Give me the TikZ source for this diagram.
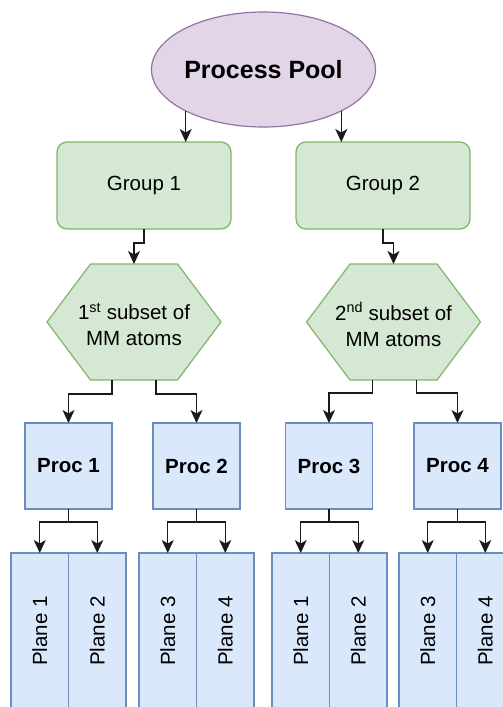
\documentclass[tikz,border=0pt]{standalone}
\usepackage{fontspec}
\setmainfont{Liberation Sans}
\usetikzlibrary{shapes.geometric,arrows.meta,calc}
\definecolor{purfill}{HTML}{E1D5E7}
\definecolor{purline}{HTML}{9673A6}
\definecolor{grfill}{HTML}{D5E8D4}
\definecolor{grline}{HTML}{82B366}
\definecolor{blfill}{HTML}{DAE8FC}
\definecolor{blline}{HTML}{6C8EBF}
\definecolor{arrcol}{HTML}{1A1A1A}
\tikzset{
  base/.style={inner sep=0pt, outer sep=0pt, line width=1.2pt, font=\fontsize{20.5}{26}\selectfont, align=center},
  poolnode/.style={base, ellipse, draw=purline, fill=purfill, minimum width=217pt, minimum height=115pt, font=\fontsize{25}{30}\selectfont\bfseries},
  groupnode/.style={base, rectangle, rounded corners=10pt, draw=grline, fill=grfill, minimum width=174pt, minimum height=87pt},
  hexnode/.style={base, rectangle, minimum width=174pt, minimum height=116pt},
  hexshape/.style={draw=grline, fill=grfill, line width=1.2pt, line join=miter},
  procnode/.style={base, rectangle, draw=blline, fill=blfill, minimum width=87pt, minimum height=86pt, font=\fontsize{20.5}{26}\selectfont\bfseries},
  planenode/.style={base, rectangle, draw=blline, fill=blfill, minimum width=57.5pt, minimum height=156pt, anchor=north},
  arr/.style={draw=arrcol, line width=1.3pt, -{Stealth[length=13pt, width=12pt, inset=3.5pt]}}
}
\begin{document}
\begin{tikzpicture}[x=1pt, y=-1pt]
\useasboundingbox (0,0) rectangle (503,707);
% nodes
\node[poolnode] (pool) at (263.5,69.5) {Process Pool};
\node[groupnode] (g1) at (144,185.5) {Group 1};
\node[groupnode] (g2) at (383,185.5) {Group 2};
% hexagons
\node[hexnode] (h1) at (134,322) {};
\node[hexnode] (h2) at (393.5,322) {};
\foreach \h in {h1,h2}{
  \filldraw[hexshape] ($(\h.north west)+(43.5,0)$) -- ($(\h.north east)+(-43.5,0)$) -- (\h.east) -- ($(\h.south east)+(-43.5,0)$) -- ($(\h.south west)+(43.5,0)$) -- (\h.west) -- cycle;
}
\node[base, yshift=-2.5pt] (t1) at (h1) {1\textsuperscript{st} subset of\\MM atoms};
\node[base, yshift=-2.5pt] (t2) at (h2) {2\textsuperscript{nd} subset of\\MM atoms};
% procs
\node[procnode] (p1) at (68.5,466) {Proc 1};
\node[procnode] (p2) at (196.5,466) {Proc 2};
\node[procnode] (p3) at (329,466) {Proc 3};
\node[procnode] (p4) at (457.5,466) {Proc 4};
% planes
\node[planenode] (a1) at (39.75,553) {\rotatebox{90}{Plane 1}};
\node[planenode] (a2) at (97.25,553) {\rotatebox{90}{Plane 2}};
\node[planenode] (a3) at (167.75,553) {\rotatebox{90}{Plane 3}};
\node[planenode] (a4) at (225.25,553) {\rotatebox{90}{Plane 4}};
\node[planenode] (b1) at (300.75,553) {\rotatebox{90}{Plane 1}};
\node[planenode] (b2) at (358.25,553) {\rotatebox{90}{Plane 2}};
\node[planenode] (b3) at (427.75,553) {\rotatebox{90}{Plane 3}};
\node[planenode] (b4) at (485.25,553) {\rotatebox{90}{Plane 4}};
% connectors
\draw[arr] (pool.208) -- (pool.208 |- g1.north);
\draw[arr] (pool.332) -- (pool.332 |- g2.north);
\draw[arr] (g1.south) -- ++(0,14) -| (h1.north);
\draw[arr] (g2.south) -- ++(0,14) -| (h2.north);
\draw[arr] ($(h1.south)+(-22,0)$) -- ++(0,14) -| (p1.north);
\draw[arr] ($(h1.south)+(22,0)$) -- ++(0,14) -| (p2.north);
\draw[arr] ($(h2.south)+(-21,0)$) -- ++(0,13) -| (p3.north);
\draw[arr] ($(h2.south)+(23,0)$) -- ++(0,13) -| (p4.north);
\draw[arr] (p1.south) -- ++(0,13) -| (a1.north);
\draw[arr] (p1.south) -- ++(0,13) -| (a2.north);
\draw[arr] (p2.south) -- ++(0,13) -| (a3.north);
\draw[arr] (p2.south) -- ++(0,13) -| (a4.north);
\draw[arr] (p3.south) -- ++(0,13) -| (b1.north);
\draw[arr] (p3.south) -- ++(0,13) -| (b2.north);
\draw[arr] (p4.south) -- ++(0,13) -| (b3.north);
\draw[arr] (p4.south) -- ++(0,13) -| (b4.north);
\end{tikzpicture}
\end{document}
